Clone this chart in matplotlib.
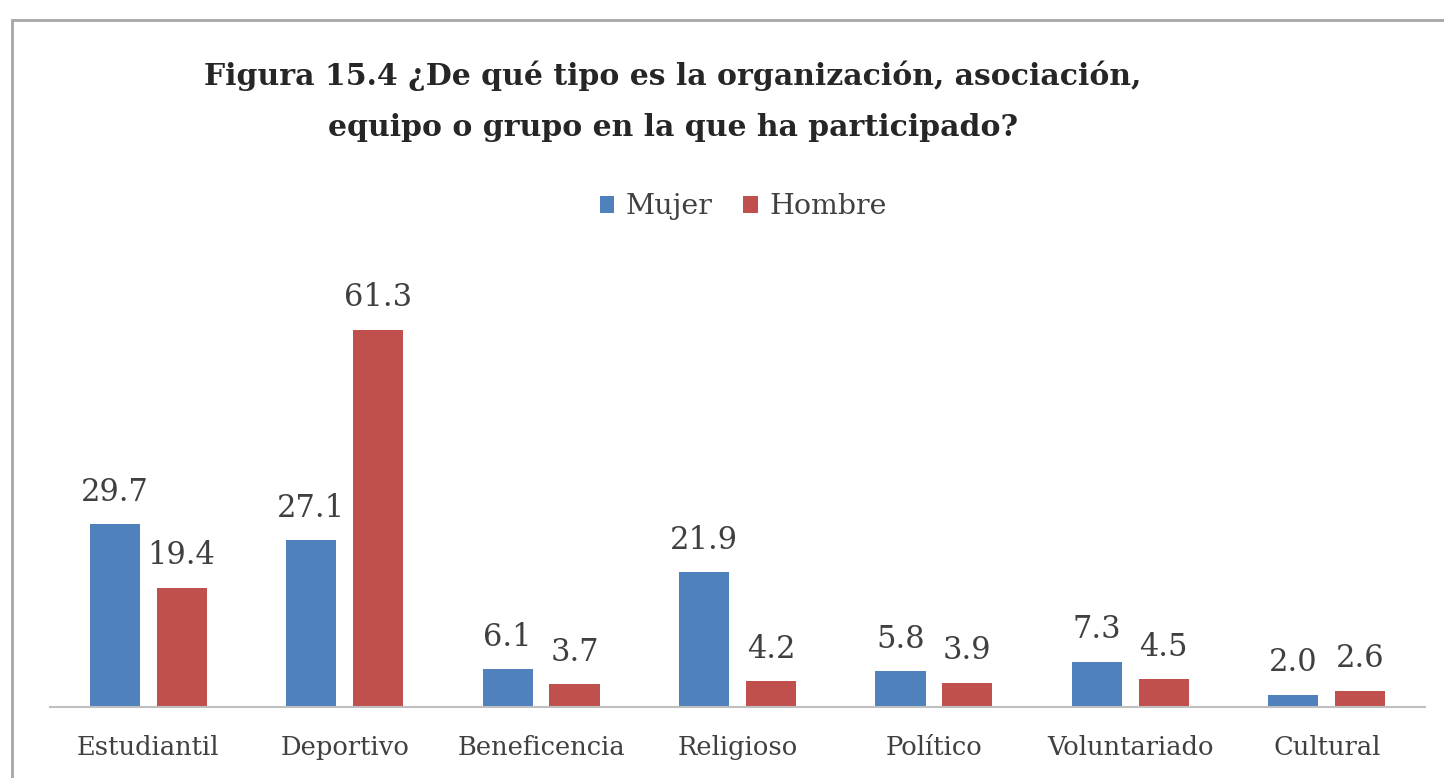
import matplotlib
matplotlib.use("Agg")
import matplotlib.pyplot as plt
import numpy as np
from matplotlib.patches import Rectangle

categorias = ["Estudiantil", "Deportivo", "Beneficencia", "Religioso",
              "Político", "Voluntariado", "Cultural"]
mujer = [29.7, 27.1, 6.1, 21.9, 5.8, 7.3, 2.0]
hombre = [19.4, 61.3, 3.7, 4.2, 3.9, 4.5, 2.6]

azul = "#4F81BD"
rojo = "#C0504D"
serif = ["DejaVu Serif"]

fig = plt.figure(figsize=(14.44, 7.78), dpi=100)

# marco del gráfico (recortado a la derecha y abajo)
fig.patches.append(Rectangle((12 / 1444, -0.05), 1.1, 1 - 20 / 778 + 0.05,
                             transform=fig.transFigure, fill=False,
                             edgecolor="#a6a6a6", linewidth=2))

ax = fig.add_axes([50 / 1444, 71 / 778, 1375 / 1444, 431 / 778])
x = np.arange(len(categorias))
w = 0.255
b1 = ax.bar(x - 0.17, mujer, w, color=azul, label="Mujer")
b2 = ax.bar(x + 0.17, hombre, w, color=rojo, label="Hombre")

for barras in (b1, b2):
    for r in barras:
        ax.text(r.get_x() + r.get_width() / 2, r.get_height() + 2.7,
                f"{r.get_height():.1f}", ha="center", va="bottom",
                fontsize=22, color="#404040", family=serif)

ax.set_xlim(-0.5, len(categorias) - 0.5)
ax.set_ylim(0, 70)
ax.set_xticks(x)
ax.set_xticklabels(categorias, fontsize=18.5, color="#404040", family=serif)
ax.tick_params(axis="x", length=0, pad=20)
ax.set_yticks([])
for s in ["top", "right", "left"]:
    ax.spines[s].set_visible(False)
ax.spines["bottom"].set_color("#bfbfbf")
ax.spines["bottom"].set_linewidth(1.5)

fig.text(0.466, 1 - 101 / 778, "Figura 15.4 ¿De qué tipo es la organización, asociación,\n"
         "equipo o grupo en la que ha participado?",
         ha="center", va="center", fontsize=21.5, fontweight="bold",
         color="#262626", family=serif, linespacing=1.95)

fig.legend(loc="center", bbox_to_anchor=(743 / 1444, 1 - 207 / 778), ncol=2,
           frameon=False, prop={"family": serif, "size": 20.5},
           handlelength=0.5, handleheight=0.5, handletextpad=0.4,
           columnspacing=1.1, labelcolor="#404040")

fig.savefig("out.png", dpi=100)
